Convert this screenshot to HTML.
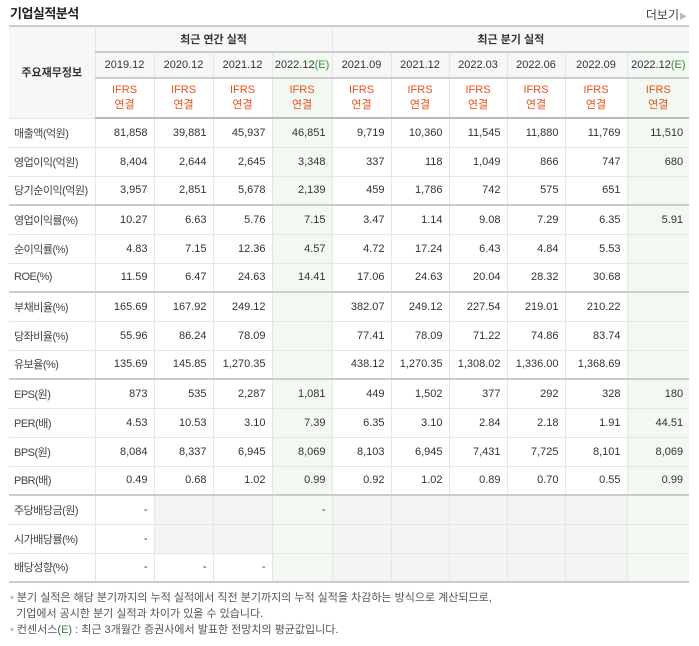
<!DOCTYPE html>
<html><head><meta charset="utf-8"><style>
body{margin:0;background:#fff;font-family:"Liberation Sans","Noto Sans CJK KR",sans-serif;color:#333;}
.wrap{position:relative;width:699px;height:646px;}
.title{position:absolute;left:10px;top:3px;font-size:13px;font-weight:bold;color:#222;letter-spacing:-0.5px;}
.more{position:absolute;right:12px;top:6px;font-size:12px;color:#444;}
.more span{color:#bbb;font-size:8px;}
table{position:absolute;left:9px;top:25px;border-collapse:collapse;table-layout:fixed;width:680px;font-size:11px;}
td,th{border:1px solid #e6e6e6;padding:0;white-space:nowrap;overflow:hidden;}
tbody tr{height:29px;}
thead th{background:#f7f7f7;font-weight:normal;color:#333;border-top:2px solid #ccc;}
thead tr.h1{height:26px;}
thead tr.h1 th{font-weight:bold;}
thead tr.h2{height:26px;}
thead tr.h3{height:40px;}
thead tr.h3 th{color:#e8501c;line-height:15px;background:#fff;border-bottom:2px solid #bbb;}
th.lab{background:#f7f7f7;border-left:none;}
td{text-align:right;padding-right:6px;}
td.l{text-align:left;padding-left:5px;background:#fff;color:#444;border-left:none;letter-spacing:-0.5px;}
.e{background:#f2f8f2 !important;}
.g{background:#f4f4f4;}
tr.sep td{border-bottom:2px solid #ccc;}
tr.last td{border-bottom:2px solid #ccc;}
td:last-child,th:last-child{border-right:none;}
.eg{color:#3a8a3a;}
.note{position:absolute;left:10px;top:590px;font-size:11px;color:#555;line-height:16px;}
.note .b{color:#bbb;}
</style></head><body><div class="wrap">
<div class="title">기업실적분석</div>
<div class="more">더보기<span>▶</span></div>
<table>
<colgroup><col style="width:86px"><col style="width:59px"><col style="width:59px"><col style="width:59px"><col style="width:60px"><col style="width:59px"><col style="width:58px"><col style="width:58px"><col style="width:58px"><col style="width:62px"><col style="width:62px"></colgroup>
<thead>
<tr class="h1"><th class="lab" rowspan="3">주요재무정보</th><th colspan="4">최근 연간 실적</th><th colspan="6">최근 분기 실적</th></tr>
<tr class="h2" id="periods"></tr>
<tr class="h3" id="ifrs"></tr>
</thead>
<tbody id="body"></tbody>
</table>
<div class="note"><span class="b">•</span> 분기 실적은 해당 분기까지의 누적 실적에서 직전 분기까지의 누적 실적을 차감하는 방식으로 계산되므로,<br>&nbsp;&nbsp;기업에서 공시한 분기 실적과 차이가 있을 수 있습니다.<br><span class="b">•</span> 컨센서스(<span class="eg">E</span>) : 최근 3개월간 증권사에서 발표한 전망치의 평균값입니다.</div>
</div>
<script>
const periods=["2019.12","2020.12","2021.12","2022.12(E)","2021.09","2021.12","2022.03","2022.06","2022.09","2022.12(E)"];
const labels=["매출액(억원)","영업이익(억원)","당기순이익(억원)","영업이익률(%)","순이익률(%)","ROE(%)","부채비율(%)","당좌비율(%)","유보율(%)","EPS(원)","PER(배)","BPS(원)","PBR(배)","주당배당금(원)","시가배당률(%)","배당성향(%)"];
const values=[
["81,858","39,881","45,937","46,851","9,719","10,360","11,545","11,880","11,769","11,510"],
["8,404","2,644","2,645","3,348","337","118","1,049","866","747","680"],
["3,957","2,851","5,678","2,139","459","1,786","742","575","651",""],
["10.27","6.63","5.76","7.15","3.47","1.14","9.08","7.29","6.35","5.91"],
["4.83","7.15","12.36","4.57","4.72","17.24","6.43","4.84","5.53",""],
["11.59","6.47","24.63","14.41","17.06","24.63","20.04","28.32","30.68",""],
["165.69","167.92","249.12","","382.07","249.12","227.54","219.01","210.22",""],
["55.96","86.24","78.09","","77.41","78.09","71.22","74.86","83.74",""],
["135.69","145.85","1,270.35","","438.12","1,270.35","1,308.02","1,336.00","1,368.69",""],
["873","535","2,287","1,081","449","1,502","377","292","328","180"],
["4.53","10.53","3.10","7.39","6.35","3.10","2.84","2.18","1.91","44.51"],
["8,084","8,337","6,945","8,069","8,103","6,945","7,431","7,725","8,101","8,069"],
["0.49","0.68","1.02","0.99","0.92","1.02","0.89","0.70","0.55","0.99"],
["-",null,null,"-",null,null,null,null,null,null],
["-",null,null,"",null,null,null,null,null,null],
["-","-","-","",null,null,null,null,null,null]];
const sepAfter=[2,5,8,12];
const pr=document.getElementById('periods'),ir=document.getElementById('ifrs');
periods.forEach((p,i)=>{
 const th=document.createElement('th');
 
 
 th.innerHTML=p.replace('(E)','<span class="eg">(E)</span>');
 if(p.includes('E'))th.classList.add('e');
 pr.appendChild(th);
 const t2=document.createElement('th');
 
 
 t2.innerHTML='IFRS<br>연결';
 if(p.includes('E'))t2.classList.add('e');
 ir.appendChild(t2);
});
const body=document.getElementById('body');
labels.forEach((lab,r)=>{
 const tr=document.createElement('tr');
 
 
 if(sepAfter.includes(r))tr.className='sep';
 if(r===labels.length-1)tr.className='last';
 const l=document.createElement('td');
 l.className='l';
 
 
 l.textContent=lab;
 tr.appendChild(l);
 values[r].forEach((v,c)=>{
  const td=document.createElement('td');
  
  
  if(v===null)td.classList.add('g');
  if(c===3||c===9)td.classList.add('e');
  td.textContent=v||'';
  tr.appendChild(td);
 });
 body.appendChild(tr);
});
</script>
</body></html>
